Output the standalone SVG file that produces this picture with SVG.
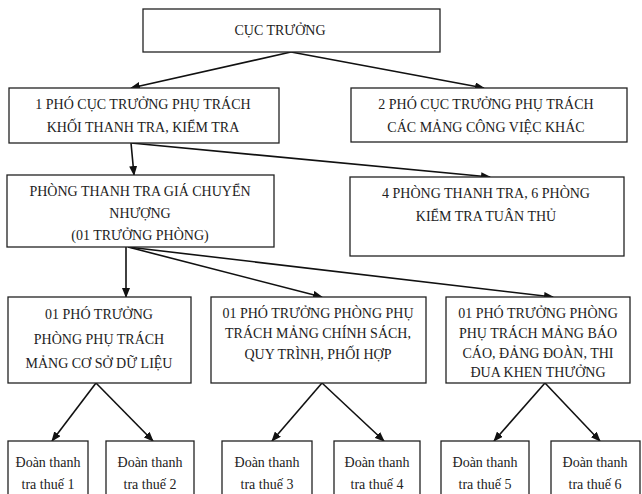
<svg xmlns="http://www.w3.org/2000/svg" width="642" height="494" viewBox="0 0 642 494">
<defs>
<marker id="ah" markerWidth="10" markerHeight="8" refX="9" refY="4" orient="auto" markerUnits="userSpaceOnUse">
<path d="M0,0 L10,4 L0,8 Z" fill="#111"/>
</marker>
<style>
.box{fill:#fff;stroke:#222;stroke-width:1.3}
.t{font-family:"Liberation Serif","Times New Roman",serif;font-size:14px;fill:#222;text-anchor:middle}
.c{stroke:#111;stroke-width:1.6;fill:none;marker-end:url(#ah)}
</style>
</defs>
<rect width="642" height="494" fill="#fff"/>
<g id="connectors">
<line class="c" x1="291" y1="52" x2="131" y2="88"/>
<line class="c" x1="291" y1="52" x2="484" y2="88"/>
<line class="c" x1="131" y1="143" x2="134" y2="175"/>
<line class="c" x1="131" y1="143" x2="490" y2="177"/>
<line class="c" x1="126" y1="247" x2="126" y2="297"/>
<line class="c" x1="128" y1="247" x2="322" y2="297"/>
<line class="c" x1="128" y1="247" x2="553" y2="297"/>
<line class="c" x1="96" y1="383" x2="52" y2="441"/>
<line class="c" x1="96" y1="383" x2="153" y2="441"/>
<line class="c" x1="322" y1="383" x2="272" y2="441"/>
<line class="c" x1="322" y1="383" x2="384" y2="441"/>
<line class="c" x1="545" y1="383" x2="494" y2="441"/>
<line class="c" x1="545" y1="383" x2="600" y2="441"/>
</g>
<g id="cuc-truong">
<rect class="box" x="143" y="9" width="297" height="43"/>
<text class="t" x="280" y="35">CỤC TRƯỞNG</text>
</g>
<g id="pho-cuc-truong-1">
<rect class="box" x="9" y="88" width="270" height="55"/>
<text class="t" x="143" y="109">1 PHÓ CỤC TRƯỞNG PHỤ TRÁCH</text>
<text class="t" x="143" y="132">KHỐI THANH TRA, KIỂM TRA</text>
</g>
<g id="pho-cuc-truong-2">
<rect class="box" x="351" y="88" width="276" height="54"/>
<text class="t" x="486" y="109">2 PHÓ CỤC TRƯỞNG PHỤ TRÁCH</text>
<text class="t" x="486" y="132">CÁC MẢNG CÔNG VIỆC KHÁC</text>
</g>
<g id="phong-thanh-tra-gia">
<rect class="box" x="7" y="175" width="267" height="72"/>
<text class="t" x="140" y="196">PHÒNG THANH TRA GIÁ CHUYỂN</text>
<text class="t" x="140" y="218">NHƯỢNG</text>
<text class="t" x="140" y="240">(01 TRƯỞNG PHÒNG)</text>
</g>
<g id="phong-kiem-tra">
<rect class="box" x="350" y="177" width="274" height="79"/>
<text class="t" x="486" y="198">4 PHÒNG THANH TRA, 6 PHÒNG</text>
<text class="t" x="486" y="221">KIỂM TRA TUÂN THỦ</text>
</g>
<g id="pho-truong-phong-1">
<rect class="box" x="8" y="297" width="183" height="86"/>
<text class="t" x="99" y="319">01 PHÓ TRƯỞNG</text>
<text class="t" x="99" y="344">PHÒNG PHỤ TRÁCH</text>
<text class="t" x="99" y="368">MẢNG CƠ SỞ DỮ LIỆU</text>
</g>
<g id="pho-truong-phong-2">
<rect class="box" x="211" y="297" width="215" height="86"/>
<text class="t" x="318" y="318">01 PHÓ TRƯỞNG PHÒNG PHỤ</text>
<text class="t" x="318" y="338">TRÁCH MẢNG CHÍNH SÁCH,</text>
<text class="t" x="318" y="359">QUY TRÌNH, PHỐI HỢP</text>
</g>
<g id="pho-truong-phong-3">
<rect class="box" x="446" y="297" width="184" height="86"/>
<text class="t" x="538" y="318">01 PHÓ TRƯỞNG  PHÒNG</text>
<text class="t" x="538" y="338">PHỤ TRÁCH MẢNG BÁO</text>
<text class="t" x="538" y="358">CÁO, ĐẢNG ĐOÀN, THI</text>
<text class="t" x="538" y="377">ĐUA KHEN THƯỞNG</text>
</g>
<g id="doan-1">
<rect class="box" x="8" y="441" width="80" height="60"/>
<text class="t" x="48" y="467">Đoàn thanh</text>
<text class="t" x="48" y="489">tra thuế 1</text>
</g>
<g id="doan-2">
<rect class="box" x="106" y="441" width="88" height="60"/>
<text class="t" x="150" y="467">Đoàn thanh</text>
<text class="t" x="150" y="489">tra thuế 2</text>
</g>
<g id="doan-3">
<rect class="box" x="222" y="441" width="90" height="60"/>
<text class="t" x="267" y="467">Đoàn thanh</text>
<text class="t" x="267" y="489">tra thuế 3</text>
</g>
<g id="doan-4">
<rect class="box" x="334" y="441" width="86" height="60"/>
<text class="t" x="377" y="467">Đoàn thanh</text>
<text class="t" x="377" y="489">tra thuế 4</text>
</g>
<g id="doan-5">
<rect class="box" x="441" y="441" width="88" height="60"/>
<text class="t" x="485" y="467">Đoàn thanh</text>
<text class="t" x="485" y="489">tra thuế 5</text>
</g>
<g id="doan-6">
<rect class="box" x="551" y="441" width="89" height="60"/>
<text class="t" x="595" y="467">Đoàn thanh</text>
<text class="t" x="595" y="489">tra thuế 6</text>
</g>
</svg>
